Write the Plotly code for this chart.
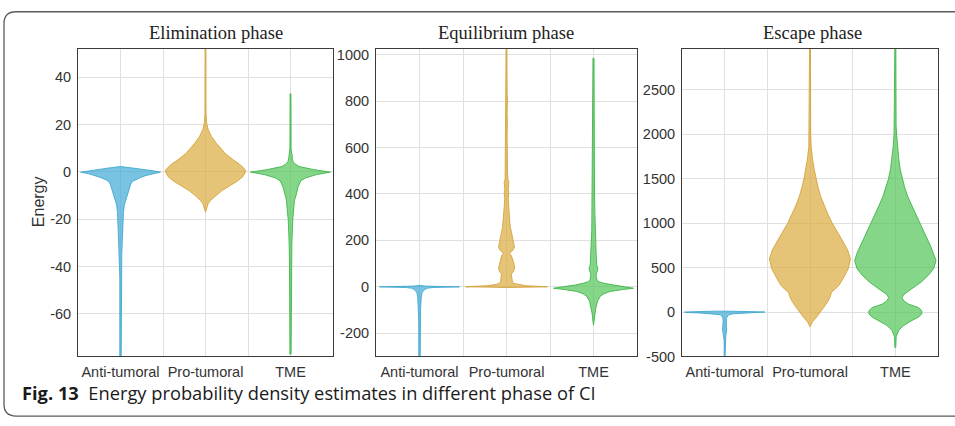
import plotly.graph_objects as go

W, H = 955, 426

CATEGORIES = ["Anti-tumoral", "Pro-tumoral", "TME"]
PHASES = ["Elimination phase", "Equilibrium phase", "Escape phase"]

# ---- density profiles: energy level -> violin half-width ----
# Elimination phase
ELIM_ANTI_E = [-80, -45, -40, -35, -30, -25, -20, -17, -14, -12, -11.4, -9.3, -7.3, -5.2, -4, -3.2, -2.3, -1.5, -0.7, -0.1, 0.5, 1.0, 1.6, 2.3]
ELIM_ANTI_D = [0.008, 0.008, 0.012, 0.015, 0.02, 0.025, 0.031, 0.035, 0.045, 0.06, 0.065, 0.085, 0.1, 0.12, 0.14, 0.18, 0.24, 0.3, 0.38, 0.47, 0.38, 0.27, 0.15, 0.0]
ELIM_PRO_E = [-17, -15, -13.5, -12, -10, -8, -6, -4, -2, 0, 1, 3, 5, 7.8, 10, 12, 15, 18, 21, 25, 55]
ELIM_PRO_D = [0.0, 0.018, 0.03, 0.06, 0.12, 0.19, 0.28, 0.37, 0.44, 0.47, 0.465, 0.41, 0.33, 0.23, 0.18, 0.13, 0.07, 0.03, 0.012, 0.006, 0.005]
ELIM_TME_E = [-77, -38, -30, -20, -17.5, -12, -9.3, -6.6, -3.8, -2.5, -1.1, -0.1, 1.0, 2.3, 3.5, 4.4, 6, 7, 8, 10, 33]
ELIM_TME_D = [0.007, 0.012, 0.016, 0.027, 0.035, 0.047, 0.07, 0.086, 0.12, 0.18, 0.31, 0.47, 0.27, 0.1, 0.05, 0.03, 0.02, 0.022, 0.012, 0.007, 0.005]

# Equilibrium phase
EQUI_ANTI_E = [-310, -150, -100, -45, -25, -12, -6, -3, -1, 0, 1, 3, 6]
EQUI_ANTI_D = [0.008, 0.009, 0.012, 0.02, 0.03, 0.057, 0.09, 0.15, 0.35, 0.46, 0.3, 0.08, 0.0]
EQUI_PRO_E = [-3, -1, 0, 2, 5, 10, 15, 25, 40, 55, 65, 80, 100, 120, 135, 145, 155, 170, 190, 210, 230, 255, 280, 300, 340, 380, 405, 420, 450, 465, 495, 540, 600, 650, 700, 720, 750, 810, 830, 940, 1030]
EQUI_PRO_D = [0.0, 0.25, 0.47, 0.36, 0.22, 0.12, 0.08, 0.066, 0.064, 0.056, 0.078, 0.092, 0.086, 0.066, 0.055, 0.034, 0.068, 0.092, 0.08, 0.07, 0.06, 0.046, 0.037, 0.032, 0.027, 0.02, 0.026, 0.019, 0.027, 0.016, 0.012, 0.009, 0.009, 0.007, 0.01, 0.012, 0.007, 0.011, 0.007, 0.006, 0.005]
EQUI_TME_E = [-165, -150, -117, -90, -62, -41, -30, -20, -12, -6, 0, 8, 15, 22, 30, 45, 55, 70, 80, 95, 115, 150, 185, 240, 320, 400, 520, 640, 660, 680, 750, 985]
EQUI_TME_D = [0.0, 0.006, 0.015, 0.027, 0.046, 0.077, 0.12, 0.19, 0.33, 0.46, 0.36, 0.21, 0.12, 0.06, 0.04, 0.032, 0.03, 0.047, 0.05, 0.037, 0.032, 0.029, 0.027, 0.02, 0.016, 0.012, 0.01, 0.01, 0.015, 0.009, 0.008, 0.006]

# Escape phase
ESC_ANTI_E = [-510, -320, -280, -240, -200, -160, -130, -100, -70, -45, -30, -20, -10, -5, 0, 5, 10, 15]
ESC_ANTI_D = [0.005, 0.006, 0.012, 0.018, 0.024, 0.02, 0.022, 0.018, 0.02, 0.035, 0.05, 0.1, 0.3, 0.46, 0.47, 0.3, 0.05, 0.0]
ESC_PRO_E = [-165, -140, -110, -60, 0, 50, 120, 180, 220, 260, 300, 380, 490, 600, 700, 820, 1000, 1100, 1200, 1300, 1400, 1500, 1600, 1720, 1860, 2000, 2970]
ESC_PRO_D = [0.0, 0.01, 0.03, 0.075, 0.125, 0.16, 0.21, 0.24, 0.25, 0.30, 0.34, 0.39, 0.45, 0.475, 0.44, 0.37, 0.26, 0.21, 0.165, 0.125, 0.095, 0.07, 0.05, 0.03, 0.014, 0.008, 0.005]
ESC_TME_E = [-400, -277, -204, -150, -95, -58, -22, 15, 51, 88, 124, 161, 197, 234, 288, 343, 416, 490, 580, 672, 750, 850, 1000, 1100, 1200, 1300, 1400, 1500, 1600, 1720, 1860, 2000, 2100, 2970]
ESC_TME_D = [0.005, 0.01, 0.04, 0.1, 0.195, 0.27, 0.31, 0.31, 0.27, 0.156, 0.1, 0.078, 0.1, 0.156, 0.234, 0.31, 0.39, 0.45, 0.477, 0.445, 0.41, 0.36, 0.29, 0.24, 0.19, 0.145, 0.11, 0.08, 0.058, 0.04, 0.025, 0.015, 0.009, 0.006]

Y_RANGES = [[-78, 52], [-300, 1025], [-500, 2960]]
Y_TICKS = [[-60, -40, -20, 0, 20, 40],
           [-200, 0, 200, 400, 600, 800, 1000],
           [-500, 0, 500, 1000, 1500, 2000, 2500]]
X_TICKS = [1, 2, 3]
X_MINOR_GRID = [1.5, 2.5]

PANELS = [
    [(ELIM_ANTI_E, ELIM_ANTI_D), (ELIM_PRO_E, ELIM_PRO_D), (ELIM_TME_E, ELIM_TME_D)],
    [(EQUI_ANTI_E, EQUI_ANTI_D), (EQUI_PRO_E, EQUI_PRO_D), (EQUI_TME_E, EQUI_TME_D)],
    [(ESC_ANTI_E, ESC_ANTI_D), (ESC_PRO_E, ESC_PRO_D), (ESC_TME_E, ESC_TME_D)],
]

FILLS = ["rgba(62,170,212,0.7)", "rgba(218,171,61,0.7)", "rgba(82,196,88,0.7)"]
EDGES = ["#3FA8D0", "#D4A43A", "#3DB54A"]
GRID = "#e0e0e0"

# ---- layout geometry (pixels) ----
X_DOMAINS_PX = [(78, 333), (376, 637), (682, 938)]
Y_DOMAIN_PX = (48, 363)
TITLE_X_PX = [216, 506, 812]


def px(x):
    return x / W


def py(y):
    return 1 - y / H


fig = go.Figure()

for p, violins in enumerate(PANELS):
    axn = "" if p == 0 else str(p + 1)
    for c, (energies, dens) in enumerate(violins):
        center = X_TICKS[c]
        xs = [center + d for d in dens] + [center - d for d in reversed(dens)]
        ys = list(energies) + list(reversed(energies))
        xs.append(xs[0])
        ys.append(ys[0])
        fig.add_trace(go.Scatter(
            x=xs, y=ys, mode="lines", fill="toself",
            fillcolor=FILLS[c], line=dict(color=EDGES[c], width=0.9),
            xaxis="x" + axn, yaxis="y" + axn, showlegend=False, hoverinfo="skip"))

axis_common = dict(showline=True, linecolor="#3a3a3a", linewidth=1, mirror=True,
                   showgrid=True, gridcolor=GRID, gridwidth=1, zeroline=False,
                   tickfont=dict(family="Liberation Sans, Arial, sans-serif", size=14.5, color="#333333"),
                   ticks="outside", tickcolor="rgba(0,0,0,0)")

layout = dict(width=W, height=H, margin=dict(l=0, r=0, t=0, b=0),
              paper_bgcolor="white", plot_bgcolor="white", showlegend=False)

for p in range(3):
    axn = "" if p == 0 else str(p + 1)
    x0, x1 = X_DOMAINS_PX[p]
    layout["xaxis" + axn] = dict(
        axis_common, domain=[px(x0), px(x1)], range=[0.5, 3.5],
        tickvals=X_TICKS, ticktext=CATEGORIES, ticklen=2,
        minor=dict(tickmode="array", tickvals=X_MINOR_GRID, showgrid=True,
                   gridcolor=GRID, gridwidth=1, ticks=""),
        anchor="y" + axn)
    layout["yaxis" + axn] = dict(
        axis_common, domain=[py(Y_DOMAIN_PX[1]), py(Y_DOMAIN_PX[0])],
        range=Y_RANGES[p], tickvals=Y_TICKS[p],
        ticktext=[str(v) for v in Y_TICKS[p]], ticklen=3, anchor="x" + axn)

fig.update_layout(**layout)

# panel titles
for p in range(3):
    fig.add_annotation(x=px(TITLE_X_PX[p]), y=py(32), xref="paper", yref="paper",
                       text=PHASES[p], showarrow=False, xanchor="center", yanchor="middle",
                       font=dict(family="Liberation Serif, serif", size=18.5, color="#222222"))

# y-axis label
fig.add_annotation(x=px(38), y=py(205), xref="paper", yref="paper", text="Energy",
                   textangle=-90, showarrow=False, xanchor="center", yanchor="middle",
                   font=dict(family="Liberation Sans, Arial, sans-serif", size=16, color="#333333"))

# caption
fig.add_annotation(x=px(20), y=py(400), xref="paper", yref="paper",
                   text="<b>Fig. 13</b>\u00a0\u00a0Energy probability density estimates in different phase of CI",
                   showarrow=False, xanchor="left", yanchor="middle",
                   font=dict(family="Open Sans, sans-serif", size=18.3, color="#1a1a1a"))

# rounded figure frame
r = 12
L, T, R, B = 4, 10, 965, 424
path = (f"M {px(R)},{py(T)} L {px(L + r)},{py(T)} Q {px(L)},{py(T)} {px(L)},{py(T + r)} "
        f"L {px(L)},{py(B - r)} Q {px(L)},{py(B)} {px(L + r)},{py(B)} L {px(R)},{py(B)}")
fig.add_shape(type="path", path=path, xref="paper", yref="paper",
              line=dict(color="#5a5a5a", width=1.3))

# page exactly the figure size (no default body margin), no mode bar
fig.write_html("out.html", config={"displayModeBar": False},
               post_script="document.body.style.margin='0';document.body.style.padding='0';"
                           "document.body.style.overflow='hidden';")
